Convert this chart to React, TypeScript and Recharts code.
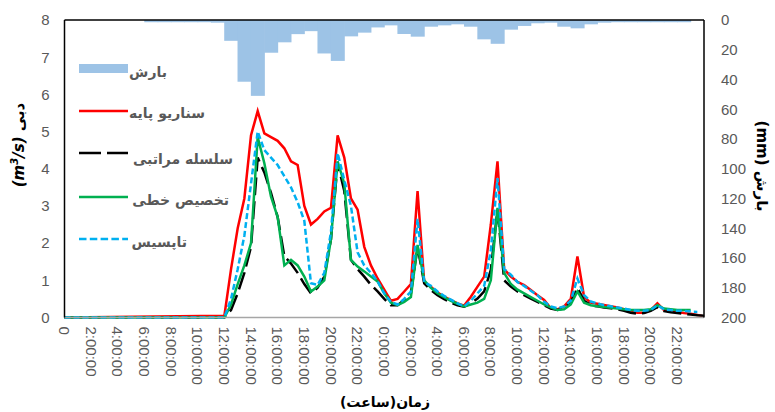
import React from 'react';
import { ComposedChart, Bar, Line, XAxis, YAxis, ReferenceLine } from 'recharts';

// hours since start; lines are flat at 0 until noon
const lineHours = [
  0,
  12, 12.5, 13, 13.5, 14, 14.5, 15, 15.5, 16, 16.5,
  17, 17.5, 18, 18.5, 19, 19.5, 20, 20.5, 21, 21.5,
  22, 22.5, 23, 23.5, 24, 24.5, 25, 25.5, 26, 26.5,
  27, 27.5, 28, 28.5, 29, 29.5, 30, 30.5, 31, 31.5,
  32, 32.5, 33, 33.5, 34, 34.5, 35, 35.5, 36, 36.5,
  37, 37.5, 38, 38.5, 39, 39.5, 40, 40.5, 41, 41.5,
  42, 42.5, 43, 43.5, 44, 44.5, 45, 45.5, 46, 46.5,
  47, 47.5, 48,
];

// سناریو پایه
const baseScenario = [
  0,
  0.05, 1.3, 2.4, 3.2, 4.9, 5.55, 4.95, 4.85, 4.75, 4.55,
  4.2, 4.1, 3.0, 2.5, 2.65, 2.85, 2.95, 4.9, 4.3, 3.2,
  2.9, 1.9, 1.4, 1.05, 0.75, 0.45, 0.5, 0.7, 0.9, 3.4,
  0.95, 0.83, 0.67, 0.56, 0.47, 0.38, 0.32, 0.56, 0.83, 1.1,
  2.5, 4.2, 1.3, 1.1, 0.96, 0.87, 0.74, 0.6, 0.47, 0.25,
  0.22, 0.3, 0.5, 1.64, 0.55, 0.4, 0.37, 0.34, 0.3, 0.27,
  0.22, 0.16, 0.13, 0.13, 0.2, 0.38, 0.2, 0.16, 0.15, 0.12,
  0.1, 0.07, 0.03,
];

// سلسله مراتبی
const hierarchy = [
  0,
  0, 0.2, 0.65, 1.2, 1.9, 4.3, 3.9, 3.35, 2.7, 1.65,
  1.45, 1.2, 0.9, 0.65, 0.8, 1.1, 2.1, 4.15, 3.4, 1.55,
  1.3, 1.1, 0.88, 0.7, 0.5, 0.33, 0.33, 0.47, 0.65, 1.9,
  0.92, 0.74, 0.6, 0.49, 0.4, 0.33, 0.29, 0.38, 0.51, 0.7,
  1.28, 2.9, 1.0, 0.83, 0.7, 0.6, 0.51, 0.42, 0.33, 0.24,
  0.2, 0.25, 0.4, 0.8, 0.45, 0.33, 0.3, 0.27, 0.25, 0.22,
  0.18, 0.13, 0.1, 0.12, 0.18, 0.28, 0.17, 0.14, 0.12, 0.1,
  0.08, 0.06, 0.05,
];

// تخصیص خطی
const linear = [
  0,
  0, 0.35, 0.9, 1.4, 2.0, 4.85, 4.15, 3.25, 2.7, 1.4,
  1.55, 1.4, 1.1, 0.7, 0.83, 1.0, 2.1, 4.2, 3.6, 1.55,
  1.37, 1.24, 1.1, 0.97, 0.65, 0.4, 0.33, 0.42, 0.55, 1.95,
  1.0, 0.8, 0.65, 0.55, 0.45, 0.37, 0.3, 0.35, 0.4, 0.5,
  1.0, 2.95, 1.2, 0.9, 0.75, 0.65, 0.55, 0.45, 0.35, 0.27,
  0.2, 0.22, 0.35, 0.7, 0.4, 0.33, 0.3, 0.28, 0.26, 0.24,
  0.22, 0.2, 0.2, 0.2, 0.22, 0.33, 0.24, 0.22, 0.2, 0.2,
  0.2, null, null,
];

// تاپسیس
const topsis = [
  0,
  0, 0.5, 1.3, 2.2, 3.6, 5.0, 4.5, 4.3, 4.1, 3.8,
  3.5, 3.1, 2.6, 0.92, 0.88, 1.2, 2.3, 4.42, 3.7, 3.0,
  1.75, 1.4, 1.2, 0.97, 0.65, 0.42, 0.35, 0.5, 0.7, 2.65,
  0.95, 0.85, 0.7, 0.58, 0.48, 0.38, 0.3, 0.45, 0.65, 0.85,
  1.8, 3.75, 1.3, 1.15, 0.95, 0.85, 0.72, 0.6, 0.42, 0.3,
  0.25, 0.3, 0.45, 1.05, 0.6, 0.43, 0.38, 0.33, 0.3, 0.27,
  0.24, 0.2, 0.18, 0.18, 0.2, 0.33, 0.22, 0.2, 0.18, 0.18,
  0.16, 0.15, null,
];

// hourly rainfall (mm), bar centred on the middle of each hour
const rainHours = [
  6.5, 7.5, 8.5, 9.5, 10.5, 11.5, 12.5, 13.5, 14.5, 15.5,
  16.5, 17.5, 18.5, 19.5, 20.5, 21.5, 22.5, 23.5, 24.5, 25.5,
  26.5, 27.5, 28.5, 29.5, 30.5, 31.5, 32.5, 33.5, 34.5, 35.5,
  36.5, 37.5, 38.5, 39.5, 40.5, 41.5, 42.5, 43.5, 44.5, 45.5,
  46.5,
];
const rain = [
  1.5, 1.5, 1.5, 1.5, 1.5, 1.8, 14, 41.5, 51, 22,
  15, 9.5, 7.5, 22.5, 27.5, 11, 8.5, 5, 3.6, 9.4,
  11.2, 4.5, 3.6, 2.9, 4.5, 13, 16, 6.5, 4, 2.2,
  1.8, 4.5, 5.6, 2.9, 1.8, 1.5, 1.5, 1.5, 1.5, 1.5,
  1.5,
];

const xTicks = [0, 2, 4, 6, 8, 10, 12, 14, 16, 18, 20, 22, 24, 26, 28, 30, 32, 34, 36, 38, 40, 42, 44, 46];
const leftTicks = [0, 1, 2, 3, 4, 5, 6, 7, 8];
const rightTicks = [0, 20, 40, 60, 80, 100, 120, 140, 160, 180, 200];

const rows = new Map<number, any>();
lineHours.forEach((t, i) => {
  rows.set(t, { t, base: baseScenario[i], ahp: hierarchy[i], lin: linear[i], top: topsis[i] });
});
rainHours.forEach((t, i) => {
  const r = rows.get(t) || { t };
  r.rain = rain[i];
  rows.set(t, r);
});
const data = Array.from(rows.values()).sort((a, b) => a.t - b.t);

const fmtHour = (h: number) => (h === 0 ? '0' : `${h % 24}:00:00`);

const GRAY = '#595959';
const TICK_FONT = '"Liberation Sans", Arial, sans-serif';
const FA_FONT = '"DejaVu Sans", sans-serif';

function XTick(props: any) {
  const { x, y, payload } = props;
  return (
    <text
      x={x}
      y={y}
      dy="0.36em"
      transform={`rotate(90, ${x}, ${y})`}
      textAnchor="start"
      fill={GRAY}
      fontSize={15}
      fontFamily={TICK_FONT}
    >
      {fmtHour(payload.value)}
    </text>
  );
}

// rows are half an hour apart, so double the band to cover the full hour
function RainBar(props: any) {
  const { x, y, width, height, fill } = props;
  if (!height || x == null) return null;
  const cx = x + width / 2;
  const top = Math.min(y, y + height);
  return <rect x={cx - width} y={top} width={width * 2} height={Math.abs(height)} fill={fill} />;
}

function Legendish() {
  const textProps = { fill: GRAY, fontSize: 14, fontWeight: 700, fontFamily: FA_FONT, textAnchor: 'end' as const };
  return (
    <svg width={775} height={412} style={{ position: 'absolute', left: 0, top: 0, pointerEvents: 'none' }}>
      <rect x={79} y={64} width={49} height={9} fill="#9dc3e6" />
      <text x={167} y={77} {...textProps}>بارش</text>

      <line x1={79} x2={128} y1={111} y2={111} stroke="#ff0000" strokeWidth={2.5} />
      <text x={205} y={118} {...textProps}>سناریو پایه</text>

      <line x1={79} x2={128} y1={153} y2={153} stroke="#000" strokeWidth={2.5} strokeDasharray="22 6" />
      <text x={233} y={164} {...textProps}>سلسله مراتبی</text>

      <line x1={79} x2={128} y1={197} y2={197} stroke="#00b050" strokeWidth={2.5} />
      <text x={229} y={205} {...textProps}>تخصیص خطی</text>

      <line x1={79} x2={128} y1={239} y2={239} stroke="#00b0f0" strokeWidth={2.5} strokeDasharray="7.5 3.3" />
      <text x={187} y={247} {...textProps}>تاپسیس</text>
    </svg>
  );
}

const titleStyle: React.CSSProperties = {
  position: 'absolute',
  whiteSpace: 'nowrap',
  fontFamily: FA_FONT,
  fontWeight: 700,
  fontSize: 15,
  color: '#000',
  direction: 'rtl',
};

export default function App() {
  return (
    <div style={{ position: 'absolute', left: 0, top: 0, width: 775, height: 412, background: '#fff', overflow: 'hidden' }}>
      <ComposedChart width={775} height={412} data={data} margin={{ top: 20, right: 0, bottom: 0, left: 0 }} barCategoryGap={0}>
        <XAxis
          dataKey="t"
          type="number"
          domain={[0, 48]}
          ticks={xTicks}
          interval={0}
          height={94.5}
          tick={<XTick />}
          tickLine={false}
          tickMargin={3}
          axisLine={{ stroke: '#a6a6a6', strokeWidth: 1.5 }}
        />
        <YAxis
          yAxisId="left"
          domain={[0, 8]}
          ticks={leftTicks}
          width={64.5}
          tickLine={false}
          tickMargin={9}
          axisLine={{ stroke: '#000', strokeWidth: 1.5 }}
          tick={{ fill: GRAY, fontSize: 15, fontFamily: TICK_FONT }}
        />
        <YAxis
          yAxisId="right"
          orientation="right"
          reversed
          domain={[0, 200]}
          ticks={rightTicks}
          width={71}
          tickLine={false}
          tickMargin={11}
          axisLine={{ stroke: '#000', strokeWidth: 1.5 }}
          tick={{ fill: GRAY, fontSize: 15, fontFamily: TICK_FONT }}
        />
        <ReferenceLine yAxisId="left" y={8} stroke="#000" strokeWidth={1.5} />
        <Bar yAxisId="right" dataKey="rain" fill="#9dc3e6" shape={<RainBar />} isAnimationActive={false} />
        <Line yAxisId="left" dataKey="base" stroke="#ff0000" strokeWidth={2.5} dot={false} connectNulls isAnimationActive={false} />
        <Line yAxisId="left" dataKey="ahp" stroke="#000" strokeWidth={2.5} strokeDasharray="18 6" dot={false} connectNulls isAnimationActive={false} />
        <Line yAxisId="left" dataKey="lin" stroke="#00b050" strokeWidth={2.5} dot={false} connectNulls isAnimationActive={false} />
        <Line yAxisId="left" dataKey="top" stroke="#00b0f0" strokeWidth={2.5} strokeDasharray="6 3" dot={false} connectNulls isAnimationActive={false} />
      </ComposedChart>
      <Legendish />
      <div style={{ ...titleStyle, left: 18, top: 145, transform: 'translate(-50%, -50%) rotate(-90deg)' }}>
        دبی <span style={{ fontStyle: 'italic', unicodeBidi: 'isolate', direction: 'ltr' }}>(m<sup style={{ fontSize: 10 }}>3</sup>/s)</span>
      </div>
      <div style={{ ...titleStyle, left: 762, top: 166, transform: 'translate(-50%, -50%) rotate(90deg)' }}>
        بارش <span style={{ unicodeBidi: 'isolate', direction: 'ltr' }}>(mm)</span>
      </div>
      <div style={{ ...titleStyle, fontSize: 14, left: 385, top: 402, transform: 'translate(-50%, -50%)' }}>زمان(ساعت)</div>
    </div>
  );
}
